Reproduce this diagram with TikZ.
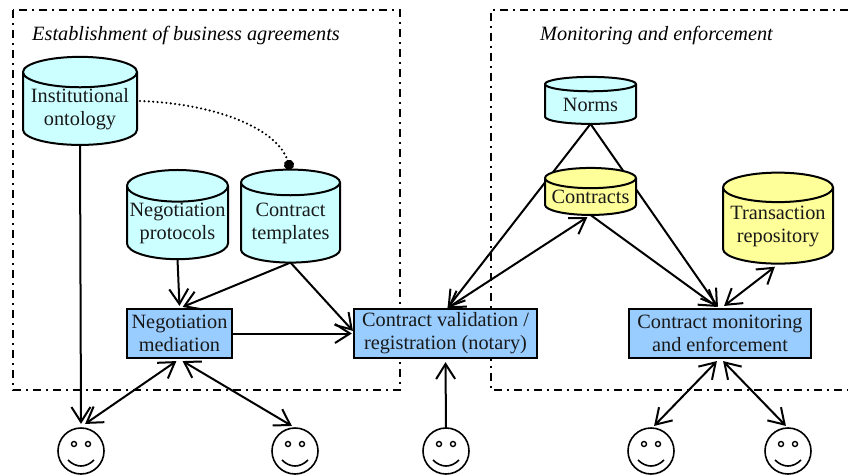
\documentclass[tikz,border=0pt]{standalone}
\usepackage{fontspec}
\setmainfont{Liberation Serif}
\usetikzlibrary{arrows.meta,shapes.geometric,backgrounds}
\pgfdeclarearrow{
  name=Open Vee,
  setup code={
    \pgfarrowssettipend{0pt}
    \pgfarrowssetlineend{-2pt}
    \pgfarrowssetbackend{-17pt}
    \pgfarrowssetvisualbackend{-2pt}
    \pgfarrowshullpoint{-17pt}{10pt}
    \pgfarrowshullpoint{-17pt}{-10pt}
    \pgfarrowshullpoint{0pt}{0pt}
  },
  drawing code={
    \pgfpathmoveto{\pgfqpoint{-17pt}{9.5pt}}
    \pgfpathlineto{\pgfqpoint{-2pt}{0pt}}
    \pgfpathlineto{\pgfqpoint{-17pt}{-9.5pt}}
    \pgfusepathqstroke
  }
}
\tikzset{
  lbl/.style={font=\fontsize{20.3}{23}\selectfont,align=center,text=black!90},
  title/.style={font=\fontsize{20.3}{23}\selectfont\itshape,anchor=base west,inner sep=0pt},
  store/.style={lbl,cylinder,shape border rotate=90,draw=black,line width=2pt,outer sep=0pt,inner sep=0pt,cylinder uses custom fill},
  cyan store/.style={store,cylinder body fill=cyanfill,cylinder end fill=cyanfill},
  yellow store/.style={store,cylinder body fill=yellowfill,cylinder end fill=yellowfill},
  service/.style={lbl,rectangle,draw=black,fill=bluefill,line width=2pt,outer sep=0pt,inner sep=0pt,minimum height=49pt,execute at begin node=\rule{0pt}{16pt}},
  region/.style={line width=1.6pt,dash pattern=on 8pt off 5pt on 2pt off 5pt},
  link/.style={line width=2pt,-{Open Vee}},
  twoway/.style={line width=2pt,{Open Vee}-{Open Vee}},
  person/.style={circle,draw=black,line width=1.6pt,minimum size=46pt,inner sep=0pt,outer sep=0pt,
    path picture={
      \draw[line width=1.4pt] ([shift={(-7pt,7pt)}]path picture bounding box.center) circle (2.5pt);
      \draw[line width=1.4pt] ([shift={(7pt,7pt)}]path picture bounding box.center) circle (2.5pt);
      \draw[line width=1.6pt] ([shift={(-13pt,-9pt)}]path picture bounding box.center) .. controls +(8pt,-8pt) and +(-8pt,-8pt) .. +(26pt,0pt);
    }}
}
\definecolor{cyanfill}{HTML}{CCFFFF}
\definecolor{yellowfill}{HTML}{FFFF99}
\definecolor{bluefill}{HTML}{99CCFF}
\begin{document}
\begin{tikzpicture}[x=1pt,y=-1pt]
\useasboundingbox (0,0) rectangle (848,476);
\node[title] (estab) at (32,40.5) {Establishment of business agreements};
\node[title] (monit) at (540,40.5) {Monitoring and enforcement};
\node[cyan store,minimum height=84pt,minimum width=114pt,aspect=0.31] (ontology) at (80,109) {Institutional\\ontology};
\node[cyan store,minimum height=85pt,minimum width=101pt,aspect=0.33] (protocols) at (177.5,223) {Negotiation\\protocols};
\node[cyan store,minimum height=93pt,minimum width=99pt,aspect=0.33] (templates) at (290.5,223) {Contract\\templates};
\node[cyan store,minimum height=47pt,minimum width=91pt,aspect=0.26] (norms) at (590.5,104.5) {Norms};
\node[yellow store,minimum height=47pt,minimum width=91pt,aspect=0.26] (contracts) at (590.5,197) {Contracts};
\node[yellow store,minimum height=91pt,minimum width=110pt,aspect=0.31] (repository) at (778,226) {Transaction\\repository};
\node[service,minimum width=105pt] (mediation) at (179.5,333.5) {Negotiation\\mediation};
\node[service,minimum width=183pt] (notary) at (445.5,333.5) {Contract validation /\\registration (notary)};
\node[service,minimum width=182pt] (enforce) at (720,333.5) {Contract monitoring\\and enforcement};
\node[person] (faceA) at (81,451) {};
\node[person] (faceB) at (295,451) {};
\node[person] (faceC) at (446,451) {};
\node[person] (faceD) at (651,451) {};
\node[person] (faceE) at (788,451) {};
\begin{scope}[on background layer]
\draw[region] (13,10) rectangle (400,390);
\draw[region] (848,10)--(491,10)--(491,390)--(848,390);
\draw[link] (norms.south)--([xshift=2pt,yshift=1pt]notary.north);
\draw[link] (norms.south)--([xshift=-2pt,yshift=2pt]enforce.north);
\end{scope}
\draw[link] (ontology.south)--([yshift=4pt]faceA.north);
\draw[twoway] ([xshift=-3pt,yshift=-3pt]mediation.south)--([xshift=4pt,yshift=4pt]faceA.north);
\draw[twoway] ([xshift=3pt,yshift=-3pt]mediation.south)--([xshift=-3pt,yshift=2pt]faceB.north);
\draw[link] (protocols.south)--([yshift=3pt]mediation.north);
\draw[link] (templates.south)--([xshift=3pt,yshift=2pt]mediation.north);
\draw[link] (templates.south)--([xshift=-1pt,yshift=2.5pt]notary.west);
\draw[link] (mediation.east)--([xshift=-2pt]notary.west);
\draw[link] (faceC.north)--([yshift=-4pt]notary.south);
\draw[twoway] ([xshift=2pt,yshift=1pt]notary.north)--([xshift=-3pt,yshift=-2pt]contracts.south);
\draw[link] (contracts.south)--([xshift=-3pt,yshift=2pt]enforce.north);
\draw[twoway] ([xshift=4pt,yshift=3pt]enforce.north)--([xshift=-3pt,yshift=-3pt]repository.south);
\draw[twoway] ([xshift=-3pt,yshift=-3pt]enforce.south)--([xshift=3pt,yshift=2pt]faceD.north);
\draw[twoway] ([xshift=3pt,yshift=-3pt]enforce.south)--([xshift=-2pt,yshift=2pt]faceE.north);
\draw[line width=2.4pt,line cap=round,dash pattern=on 0pt off 4.4pt,-{Circle[length=10pt]}] ([xshift=3pt,yshift=8pt]ontology.east) .. controls (220,104) and (278,130) .. (templates.north);
\end{tikzpicture}
\end{document}
